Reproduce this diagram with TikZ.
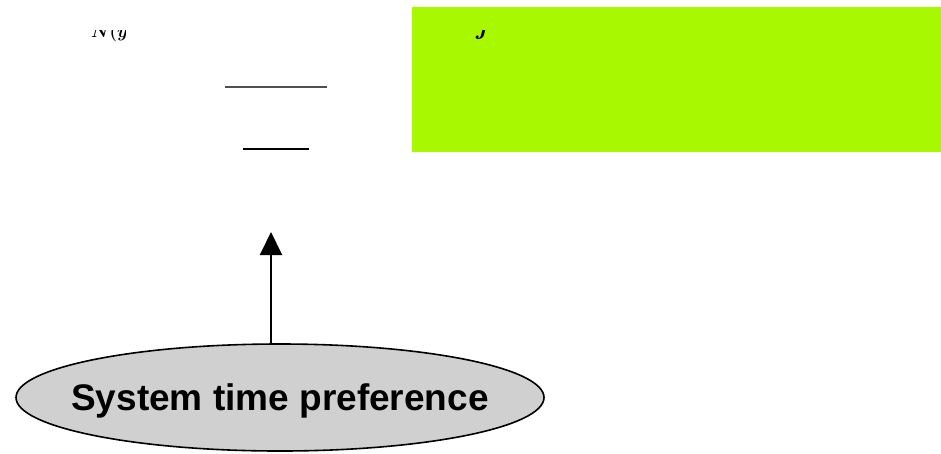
\documentclass[tikz,border=0pt]{standalone}
\usepackage{fontspec}
\setmainfont{Liberation Sans}
\usepackage{amsmath,amssymb}
\usepackage{tikz}
\usepackage{xcolor}
\usetikzlibrary{arrows.meta,positioning,shapes.geometric}
\definecolor{sysgreen}{HTML}{A7F800}
\definecolor{bubblegray}{HTML}{D0D0D0}
\definecolor{bargray}{HTML}{505050}
\tikzset{
  bubble/.style={ellipse, draw=black, fill=bubblegray, line width=1.6pt,
                 minimum width=528pt, minimum height=107pt, inner xsep=-40pt,
                 inner ysep=0pt, text depth=0pt,
                 font=\fontsize{37}{40}\selectfont\bfseries},
  arrow/.style={-{Triangle[length=23pt,width=22pt]}, line width=2pt, draw=black},
  panel/.style={fill=sysgreen, inner sep=0pt, minimum width=529pt,
                minimum height=145pt},
  bar/.style={line width=1.4pt},
  frag/.style={inner sep=0pt}
}
\begin{document}
\begin{tikzpicture}[x=1pt,y=-1pt]
    \useasboundingbox (0,0) rectangle (941,453);

    % green panel, top right
    \node[panel, anchor=north west] (panel) at (412,7) {};

    % fraction bars
    \draw[bar, draw=bargray] (225,87) -- (327,87);
    \draw[bar, line width=1.2pt] (243,149) -- (309,149);

    % glyph remains, cut at the top
    \begin{scope}
      \clip (90,30) rectangle (125,42);
      \node[frag, font=\fontsize{16}{16}\selectfont, anchor=base west] (sym) at (91,37) {$\boldsymbol{N(y)}$};
    \end{scope}
    \begin{scope}
      \clip (474,30) rectangle (496,43);
      \node[frag, font=\fontsize{40}{40}\selectfont, anchor=base west] (jay) at (476,34) {$\boldsymbol{j}$};
    \end{scope}

    % system time preference
    \node[bubble] (stp) at (280,397.5) {System time preference};
    \coordinate (tip) at (271,232);
    \draw[arrow] (stp.north -| tip) -- (tip);
\end{tikzpicture}
\end{document}
